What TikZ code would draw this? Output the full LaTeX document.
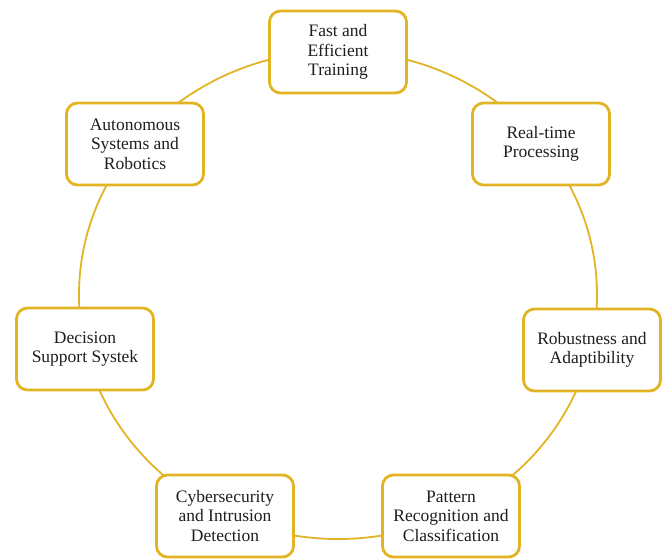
\documentclass[tikz,border=0pt]{standalone}
\usepackage{fontspec}
\setmainfont{Liberation Serif}
\definecolor{gold}{RGB}{226,180,36}
\definecolor{txt}{RGB}{30,30,30}
\begin{document}
\begin{tikzpicture}[x=1pt,y=-1pt,
  box/.style={draw=gold, line width=2.8pt, rounded corners=11pt, fill=white,
    minimum width=137pt, minimum height=82pt, align=center,
    font=\fontsize{17.5}{19.5}\selectfont, text=txt, inner sep=2pt},
  ring/.style={draw=gold, line width=1.8pt}]
\useasboundingbox (0,0) rectangle (668,559);
\coordinate (c) at (338,295);
\draw[ring] (c) ellipse [x radius=259, y radius=244];
\node[box] (fast) at (338,52) {Fast and\\Efficient\\Training};
\node[box] (real) at (541,144) {Real-time\\Processing};
\node[box] (robust) at (592,350) {Robustness and\\Adaptibility};
\node[box] (pattern) at (451,516) {Pattern\\Recognition and\\Classification};
\node[box] (cyber) at (225,516) {Cybersecurity\\and Intrusion\\Detection};
\node[box] (decision) at (85,349) {Decision\\Support Systek};
\node[box] (auto) at (135,144) {Autonomous\\Systems and\\Robotics};
\end{tikzpicture}
\end{document}
